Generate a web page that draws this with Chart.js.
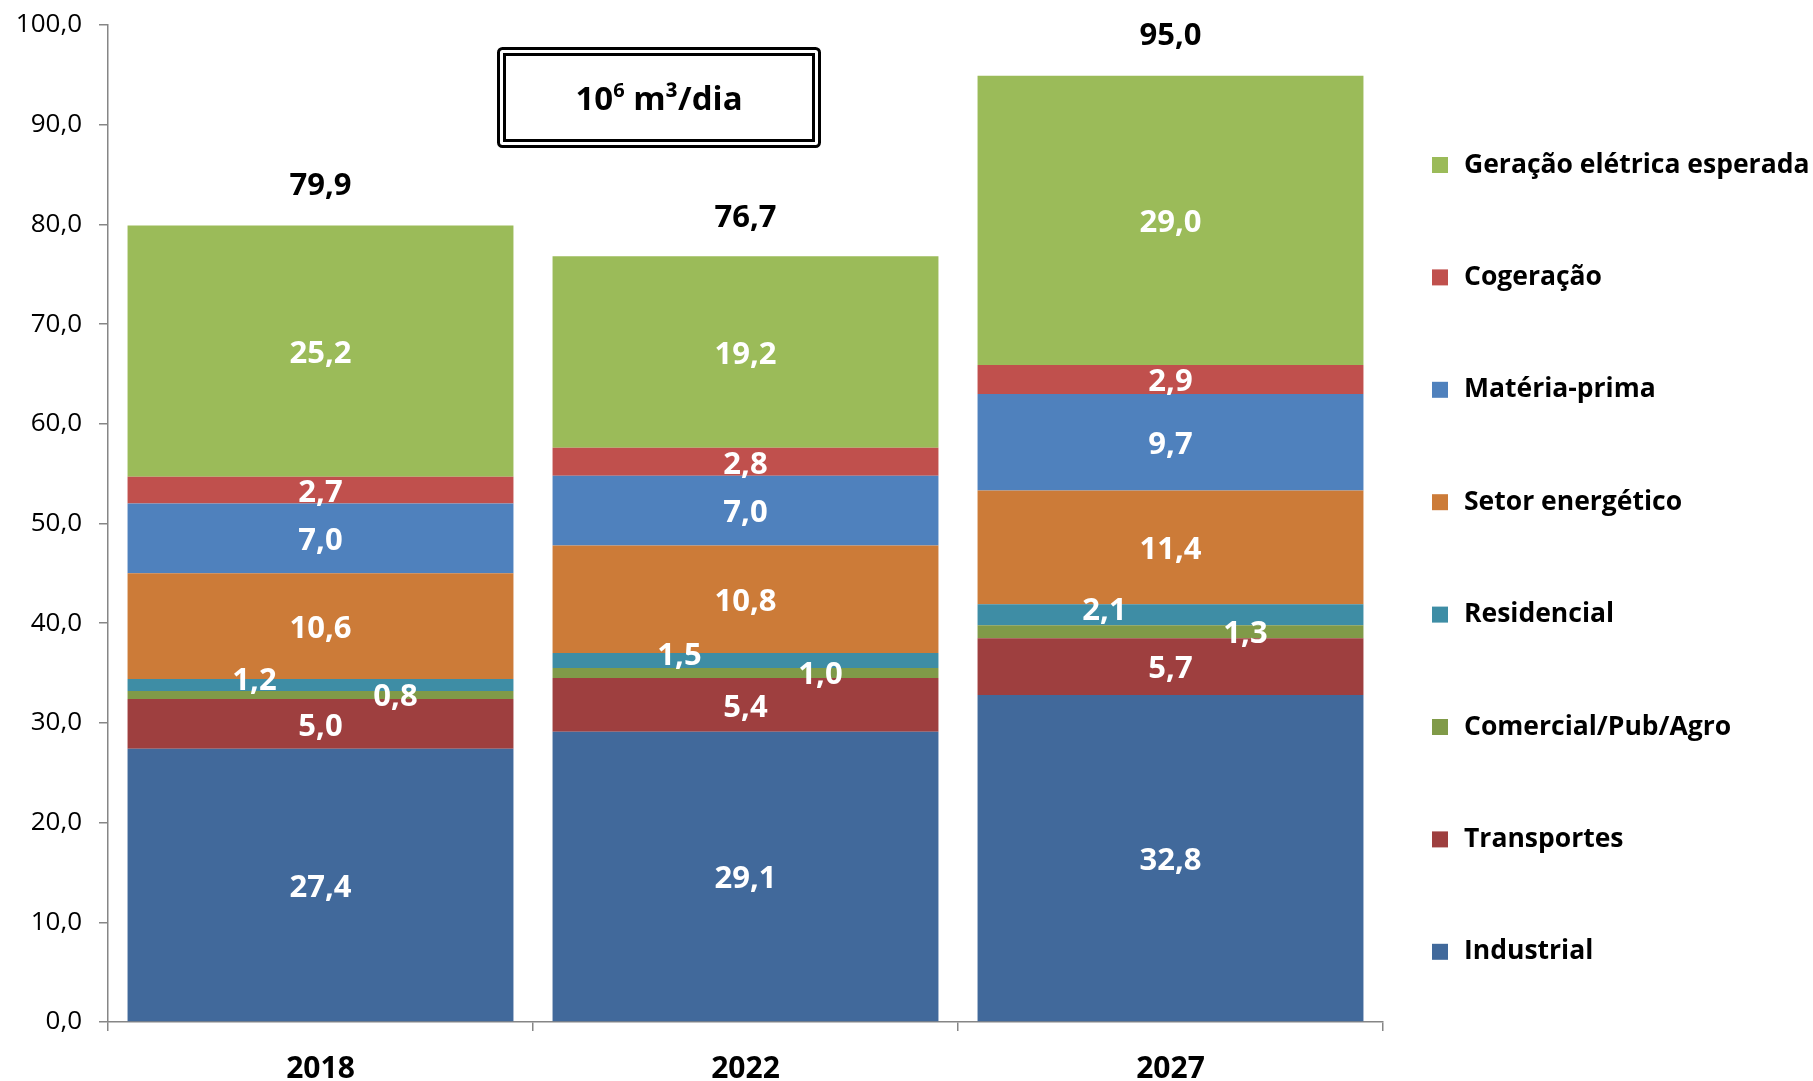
<!DOCTYPE html>
<html>
<head>
<meta charset="utf-8">
<script src="https://cdn.jsdelivr.net/npm/chart.js@4"></script>
<style>
  html, body { margin: 0; padding: 0; background: #fff; }
  #wrap { width: 1813px; height: 1081px; }
</style>
</head>
<body>
<div id="wrap"><canvas id="gasChart"></canvas></div>
<script>
// dados (10^6 m³/dia)
const years = ['2018', '2022', '2027'];
const industrial = [27.4, 29.1, 32.8];
const transportes = [5.0, 5.4, 5.7];
const comercial = [0.8, 1.0, 1.3];
const residencial = [1.2, 1.5, 2.1];
const setorEnergetico = [10.6, 10.8, 11.4];
const materiaPrima = [7.0, 7.0, 9.7];
const cogeracao = [2.7, 2.8, 2.9];
const geracaoEletrica = [25.2, 19.2, 29.0];
const totals = [79.9, 76.7, 95.0];
const yTicks = [0, 10, 20, 30, 40, 50, 60, 70, 80, 90, 100];

const FONT = "'Open Sans', sans-serif";
const fmt = v => v.toFixed(1).replace('.', ',');

const series = [
  { label: 'Industrial', data: industrial, color: '#41699b' },
  { label: 'Transportes', data: transportes, color: '#9e3f3f' },
  { label: 'Comercial/Pub/Agro', data: comercial, color: '#809a48' },
  { label: 'Residencial', data: residencial, color: '#3e8da5' },
  { label: 'Setor energético', data: setorEnergetico, color: '#cc7b38' },
  { label: 'Matéria-prima', data: materiaPrima, color: '#4f81bd' },
  { label: 'Cogeração', data: cogeracao, color: '#c0504d' },
  { label: 'Geração elétrica esperada', data: geracaoEletrica, color: '#9bbb59' }
];

// labels of thin segments are pushed aside like in the original
const labelShift = {
  'Residencial': { dx: -66, dy: -4 },
  'Comercial/Pub/Agro': { dx: 75, dy: 2 }
};

const segmentLabels = {
  id: 'segmentLabels',
  afterDatasetsDraw(chart) {
    const ctx = chart.ctx;
    ctx.save();
    ctx.font = `bold 31px ${FONT}`;
    ctx.fillStyle = '#fff';
    ctx.textAlign = 'center';
    ctx.textBaseline = 'middle';
    chart.data.datasets.forEach((ds, i) => {
      const meta = chart.getDatasetMeta(i);
      const s = labelShift[ds.label] || { dx: 0, dy: 3 };
      meta.data.forEach((bar, j) => {
        const cy = (bar.y + bar.base) / 2;
        ctx.fillText(fmt(ds.data[j]), bar.x + s.dx, cy + s.dy);
      });
    });
    // totals above the stacks
    const yScale = chart.scales.y;
    const top = chart.getDatasetMeta(chart.data.datasets.length - 1);
    ctx.fillStyle = '#000';
    ctx.font = `bold 31px ${FONT}`;
    top.data.forEach((bar, j) => {
      ctx.fillText(fmt(totals[j]), bar.x, yScale.getPixelForValue(totals[j]) - 39);
    });
    ctx.restore();
  }
};

const unitBox = {
  id: 'unitBox',
  afterDraw(chart) {
    const ctx = chart.ctx;
    const x = 497, y = 47, w = 324, h = 101;
    ctx.save();
    ctx.strokeStyle = '#000';
    ctx.lineWidth = 3;
    ctx.beginPath();
    ctx.roundRect(x + 1.5, y + 1.5, w - 3, h - 3, 4);
    ctx.stroke();
    ctx.strokeRect(x + 7.5, y + 7.5, w - 15, h - 15);
    // 10^6 m³/dia
    ctx.fillStyle = '#000';
    ctx.textBaseline = 'alphabetic';
    ctx.textAlign = 'left';
    const big = `bold 33px ${FONT}`, small = `bold 20px ${FONT}`;
    ctx.font = big;
    const w1 = ctx.measureText('10').width;
    const w3 = ctx.measureText(' m³/dia').width;
    ctx.font = small;
    const w2 = ctx.measureText('6').width;
    let cx = x + w / 2 - (w1 + w2 + w3) / 2;
    const base = y + h / 2 + 12;
    ctx.font = big;
    ctx.fillText('10', cx, base);
    ctx.font = small;
    ctx.fillText('6', cx + w1, base - 13);
    ctx.font = big;
    ctx.fillText(' m³/dia', cx + w1 + w2, base);
    ctx.restore();
  }
};

const sideLegend = {
  id: 'sideLegend',
  afterDraw(chart) {
    const ctx = chart.ctx;
    ctx.save();
    ctx.font = `bold 26.5px ${FONT}`;
    ctx.textBaseline = 'middle';
    ctx.textAlign = 'left';
    const items = chart.data.datasets.slice().reverse();
    items.forEach((ds, k) => {
      const cy = 165 + k * 112.4;
      ctx.fillStyle = ds.backgroundColor;
      ctx.fillRect(1432, cy - 8, 16, 16);
      ctx.fillStyle = '#000';
      ctx.fillText(ds.label, 1464, cy);
    });
    ctx.restore();
  }
};

const ctx = document.getElementById('gasChart').getContext('2d');
new Chart(ctx, {
  type: 'bar',
  data: {
    labels: years,
    datasets: series.map(s => ({
      label: s.label,
      data: s.data,
      backgroundColor: s.color,
      borderWidth: 0,
      barPercentage: 0.908,
      categoryPercentage: 1.0
    }))
  },
  options: {
    responsive: true,
    maintainAspectRatio: false,
    animation: false,
    layout: { padding: { top: 25, right: 430, left: 0, bottom: 0 } },
    plugins: {
      legend: { display: false },
      tooltip: { enabled: false }
    },
    scales: {
      x: {
        stacked: true,
        grid: { display: true, drawOnChartArea: false, offset: true, color: '#868686', tickLength: 9, lineWidth: 1.5 },
        border: { color: '#868686', width: 1.5 },
        ticks: { color: '#000', font: { family: FONT, size: 30, weight: 'bold' }, padding: 20 },
        afterFit: s => { s.height = 59; }
      },
      y: {
        stacked: true,
        min: 0,
        max: 100,
        afterBuildTicks: s => { s.ticks = yTicks.map(v => ({ value: v })); },
        grid: { display: true, drawOnChartArea: false, color: '#868686', tickLength: 9, lineWidth: 1.5 },
        border: { color: '#868686', width: 1.5 },
        ticks: {
          color: '#000',
          font: { family: FONT, size: 26 },
          padding: 17,
          callback: v => fmt(v)
        },
        afterFit: s => { s.width = 108; s.paddingTop = 0; s.paddingBottom = 0; }
      }
    }
  },
  plugins: [segmentLabels, unitBox, sideLegend]
});
</script>
</body>
</html>
